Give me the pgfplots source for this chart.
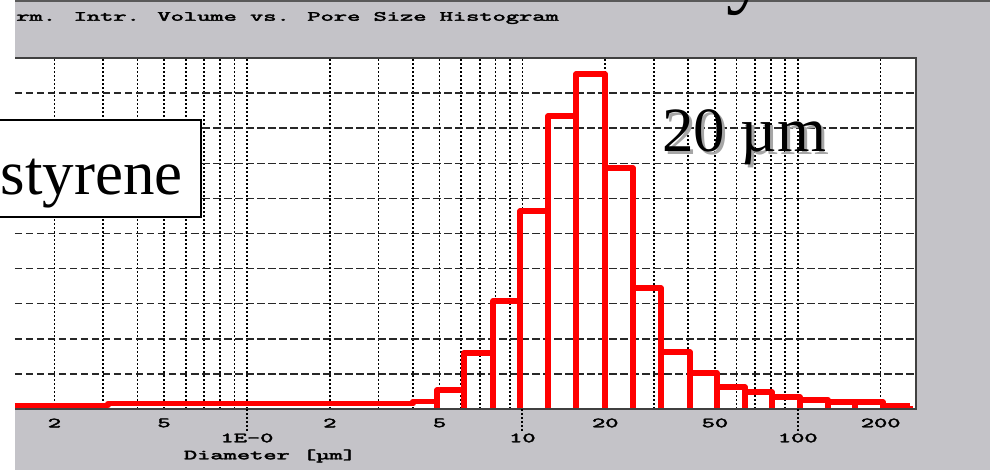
\documentclass[border=0pt]{standalone}
\usepackage{pgfplots}
\pgfplotsset{compat=1.18}
\usepackage{fontspec}
\newfontfamily\slidefont{Liberation Serif}
\newfontfamily\scrfont[FakeBold=2.5]{lmmono10-regular.otf}
\definecolor{panel}{RGB}{196,195,200}
\definecolor{hgrid}{RGB}{40,40,40}

\begin{document}
\begin{tikzpicture}[x=1bp,y=1bp]
\useasboundingbox (0,0) rectangle (994,470);
\fill[white] (0,0) rectangle (994,470);
\fill[panel] (15,0) rectangle (990,470);
\draw[black!65, line width=2bp] (15,469) -- (990,469);
% piece of the slide title cut off at the top
\node[anchor=base west, inner sep=0, font=\slidefont\fontsize{84bp}{84bp}\selectfont] at (726,472) {y};

\node[anchor=west, inner sep=0, xscale=1.80,
      font=\scrfont\fontsize{14bp}{14bp}\selectfont] at (16,452)
      {rm. Intr. Volume vs. Pore Size Histogram};

\begin{axis}[
    name=ax,
    at={(15bp,61bp)}, anchor=south west,
    scale only axis, width=901bp, height=351bp,
    xmode=log, xmin=0.1438, xmax=268.7,
    ymin=0, ymax=10,
    axis line style={draw=none},
    axis background/.style={fill=white},
    xtick={1,10,100},
    xticklabels={1E-0,10,100},
    minor xtick={0.3,0.4,0.6,0.7,0.8,0.9,3,4,6,7,8,9,30,40,60,70,80,90},
    extra x ticks={0.2,0.5,2,5,20,50,200},
    extra x tick labels={2,5,2,5,20,50,200},
    extra x tick style={major tick length=0pt, xticklabel shift=14bp, grid=major},
    xtick pos=bottom, tick align=outside,
    major tick length=22bp, minor tick length=0pt,
    xtick style={black, line width=1.6bp, dash pattern=on 1.6bp off 2.4bp},
    xticklabel shift=7bp,
    xticklabel style={anchor=center, inner sep=0pt, xscale=1.8,
      font=\scrfont\fontsize{14bp}{14bp}\selectfont},
    ytick={1,2,3,4,5,6,7,8,9},
    yticklabels={},
    ytick style={draw=none},
    xmajorgrids, xminorgrids, ymajorgrids,
    x grid style={black, line width=1.6bp, dash pattern=on 1.6bp off 2.4bp},
    y grid style={hgrid, line width=1.5bp, dash pattern=on 7.5bp off 3.5bp},
    xlabel={Diameter [µm]},
    every axis x label/.style={at={(axis description cs:0.283,0)}, anchor=center,
      yshift=-47bp, xscale=1.8, inner sep=0pt,
      font=\scrfont\fontsize{14bp}{14bp}\selectfont},
]
% histogram outline: left edge of each bin and its height, last point closes the bin
\addplot[red, line width=5.5bp, line join=round, const plot mark left, mark=none] coordinates {
    (0.1438,0.10) (0.3128,0.15) (4.008,0.22) (4.897,0.54) (6.137,1.60)
    (7.822,3.08) (9.80,5.64) (12.39,8.35) (15.65,9.54) (19.95,6.87)
    (25.20,3.45) (31.87,1.62) (40.61,1.03) (50.89,0.63) (64.31,0.48)
    (80.61,0.34) (101.9,0.26) (128.8,0.20) (161.3,0.20) (203.9,0.085)
    (255.6,0.085)
};
% bin walls down to the base
\addplot[red, line width=5.5bp, ycomb, mark=none] coordinates {
    (4.897,0.54) (6.137,1.60) (7.822,3.08) (9.80,5.64) (12.39,8.35)
    (15.65,9.54) (19.95,9.54) (25.20,6.87) (31.87,3.45) (40.61,1.62)
    (50.89,1.03) (64.31,0.63) (80.61,0.48) (101.9,0.34) (128.8,0.26)
    (161.3,0.20) (203.9,0.20) (255.6,0.085)
};
\end{axis}
\draw[black!75, line width=1.5bp] (ax.south west) -- (ax.south east) -- (ax.north east) -- (ax.north west);
% dotted extension of the decade lines below the frame
\foreach \xx in {247,522,798}
  \draw[black, line width=1.6bp, dash pattern=on 1.6bp off 2.4bp] (\xx,61) -- (\xx,39);

% sample label box (cut off on the left)
\draw[fill=white, line width=2bp] (-20,253) rectangle (201,350);
\node[anchor=base east, inner sep=0, font=\slidefont\fontsize{63bp}{63bp}\selectfont] at (183,275) {styrene};

% size annotation with drop shadow
\node[anchor=base west, inner sep=0, text=black!35, font=\slidefont\fontsize{63bp}{63bp}\selectfont] at (665,315) {20 µm};
\node[anchor=base west, inner sep=0, font=\slidefont\fontsize{63bp}{63bp}\selectfont] at (662,318) {20 µm};
\end{tikzpicture}
\end{document}
